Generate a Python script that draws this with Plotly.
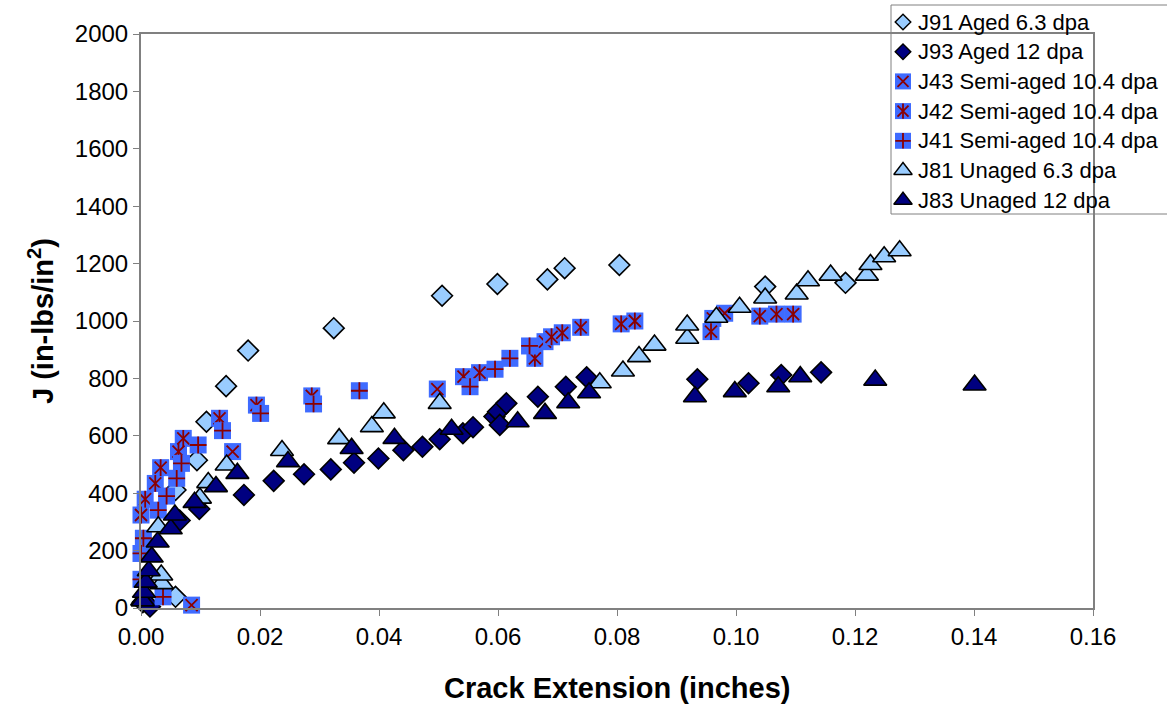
import plotly.graph_objects as go

# ---------------------------------------------------------------------------
# J-R curve data: crack extension (inches) vs J (in-lbs/in^2)
# ---------------------------------------------------------------------------
SERIES_NAMES = [
    "J91 Aged 6.3 dpa",
    "J93 Aged 12 dpa",
    "J43 Semi-aged 10.4 dpa",
    "J42 Semi-aged 10.4 dpa",
    "J41 Semi-aged 10.4 dpa",
    "J81 Unaged 6.3 dpa",
    "J83 Unaged 12 dpa",
]

j91_da = [0.0003, 0.0058, 0.0058, 0.0094, 0.0110, 0.0143, 0.0180, 0.0324,
          0.0506, 0.0599, 0.0683, 0.0712, 0.0804, 0.1049, 0.1184]
j91_j = [20, 39, 411, 515, 649, 773, 897, 975,
         1088, 1129, 1145, 1184, 1195, 1120, 1133]

j93_da = [0.0015, 0.0065, 0.0098, 0.0173, 0.0223, 0.0274, 0.0319, 0.0358,
          0.0399, 0.0441, 0.0473, 0.0502, 0.0541, 0.0558, 0.0594, 0.0600,
          0.0603, 0.0614, 0.0667, 0.0714, 0.0749, 0.0935, 0.1021, 0.1076,
          0.1143]
j93_j = [5, 305, 345, 394, 443, 466, 483, 506,
         521, 550, 562, 588, 609, 630, 667, 684,
         638, 713, 736, 771, 804, 797, 783, 812,
         821]

j43_da = [0.0085, 0.0154, 0.0498, 0.0679, 0.0961, 0.0981]
j43_j = [10, 545, 763, 928, 1009, 1027]

j42_da = [0.0000, 0.0007, 0.0024, 0.0033, 0.0063, 0.0071, 0.0132, 0.0194,
          0.0287, 0.0542, 0.0569, 0.0662, 0.0690, 0.0708, 0.0739, 0.0807,
          0.0830, 0.0958, 0.1040, 0.1068, 0.1096]
j42_j = [324, 379, 434, 489, 545, 591, 661, 707,
         739, 806, 820, 870, 945, 959, 978, 990,
         1000, 963, 1017, 1024, 1024]

j41_da = [0.0000, 0.0000, 0.0004, 0.0029, 0.0037, 0.0043, 0.0060, 0.0068,
          0.0096, 0.0137, 0.0201, 0.0290, 0.0367, 0.0553, 0.0595, 0.0620,
          0.0653]
j41_j = [100, 190, 243, 341, 39, 390, 452, 504,
         568, 618, 678, 711, 757, 771, 832, 870,
         913]

j81_da = [0.0002, 0.0035, 0.0034, 0.0029, 0.0099, 0.0113, 0.0144, 0.0237,
          0.0333, 0.0388, 0.0408, 0.0502, 0.0771, 0.0810, 0.0837, 0.0863,
          0.0918, 0.0918, 0.0967, 0.1006, 0.1049, 0.1102, 0.1121, 0.1159,
          0.1220, 0.1226, 0.1249, 0.1275]
j81_j = [28, 85, 115, 283, 383, 437, 498, 549,
         590, 632, 680, 713, 785, 826, 876, 916,
         940, 986, 1013, 1048, 1080, 1094, 1140, 1160,
         1160, 1197, 1224, 1245]

j83_da = [0.0003, 0.0005, 0.0008, 0.0013, 0.0018, 0.0028, 0.0050, 0.0057,
          0.0090, 0.0126, 0.0162, 0.0247, 0.0354, 0.0426, 0.0522, 0.0633,
          0.0679, 0.0718, 0.0753, 0.0931, 0.0998, 0.1071, 0.1108, 0.1234,
          0.1401]
j83_j = [25, 55, 90, 130, 178, 230, 276, 324,
         368, 423, 469, 510, 556, 591, 623, 649,
         678, 715, 750, 736, 754, 771, 806, 794,
         777]

X_TICKS = [0.00, 0.02, 0.04, 0.06, 0.08, 0.10, 0.12, 0.14, 0.16]
Y_TICKS = [0, 200, 400, 600, 800, 1000, 1200, 1400, 1600, 1800, 2000]

# ---------------------------------------------------------------------------
# Styling
# ---------------------------------------------------------------------------
LIGHT = "#99CCFF"
NAVY = "#000080"
SQ_BLUE = "#3F6BFF"
DARK_RED = "#8B0000"
AXIS_GREY = "#808080"
FONT = "Arial, Liberation Sans, sans-serif"

W, H = 1167, 704
# pixel frame of the plotting area (the paper is the whole figure)
PL, PR, PT, PB = 141, 1093, 34, 608


def fx(px):
    return px / W


def fy(py):
    return 1 - py / H


fig = go.Figure()


def outlined(da, j, symbol, color, size):
    return go.Scatter(
        x=da, y=j, mode="markers", cliponaxis=False, showlegend=False,
        hoverinfo="x+y",
        marker=dict(symbol=symbol, size=size, color=color,
                    line=dict(color="black", width=1.6)),
    )


def semi(da, j, glyphs):
    traces = [go.Scatter(
        x=da, y=j, mode="markers", cliponaxis=False, showlegend=False,
        marker=dict(symbol="square", size=17, color=SQ_BLUE,
                    line=dict(width=0)),
    )]
    for g in glyphs:
        traces.append(go.Scatter(
            x=da, y=j, mode="markers", cliponaxis=False, showlegend=False,
            hoverinfo="skip",
            marker=dict(symbol=g, size=12, color=DARK_RED,
                        line=dict(color=DARK_RED, width=1.8)),
        ))
    return traces


GLYPHS = {
    2: ["x-thin-open"],
    3: ["x-thin-open", "line-ns-open"],
    4: ["cross-thin-open"],
}

fig.add_trace(outlined(j91_da, j91_j, "diamond", LIGHT, 16))
fig.add_trace(outlined(j93_da, j93_j, "diamond", NAVY, 16))
for t in semi(j43_da, j43_j, GLYPHS[2]):
    fig.add_trace(t)
for t in semi(j42_da, j42_j, GLYPHS[3]):
    fig.add_trace(t)
for t in semi(j41_da, j41_j, GLYPHS[4]):
    fig.add_trace(t)
fig.add_trace(outlined(j81_da, j81_j, "triangle-up", LIGHT, 20))
fig.add_trace(outlined(j83_da, j83_j, "triangle-up", NAVY, 20))

# ---------------------------------------------------------------------------
# Legend box (drawn on a pixel-scaled helper axis pair covering the figure)
# ---------------------------------------------------------------------------
LEG_L, LEG_T, LEG_B = 891, 5, 214
ROW0, ROW_H = 22, 29.7
SYM_X, TXT_X = 903, 916

fig.add_shape(type="rect", xref="paper", yref="paper",
              x0=fx(LEG_L), x1=fx(W + 10), y0=fy(LEG_B), y1=fy(LEG_T),
              line=dict(color=AXIS_GREY, width=1), fillcolor="white",
              layer="below")

legend_style = [
    ("diamond", LIGHT, None),
    ("diamond", NAVY, None),
    ("square", SQ_BLUE, GLYPHS[2]),
    ("square", SQ_BLUE, GLYPHS[3]),
    ("square", SQ_BLUE, GLYPHS[4]),
    ("triangle-up", LIGHT, None),
    ("triangle-up", NAVY, None),
]
for i, (name, (sym, col, glyphs)) in enumerate(zip(SERIES_NAMES, legend_style)):
    yc = ROW0 + ROW_H * i
    if glyphs is None:
        size = 12 if sym == "diamond" else 16
        fig.add_trace(go.Scatter(
            x=[SYM_X], y=[yc], xaxis="x2", yaxis="y2", mode="markers",
            showlegend=False, hoverinfo="skip",
            marker=dict(symbol=sym, size=size, color=col,
                        line=dict(color="black", width=1.4))))
    else:
        fig.add_trace(go.Scatter(
            x=[SYM_X], y=[yc], xaxis="x2", yaxis="y2", mode="markers",
            showlegend=False, hoverinfo="skip",
            marker=dict(symbol="square", size=16, color=col,
                        line=dict(width=0))))
        for g in glyphs:
            fig.add_trace(go.Scatter(
                x=[SYM_X], y=[yc], xaxis="x2", yaxis="y2", mode="markers",
                showlegend=False, hoverinfo="skip",
                marker=dict(symbol=g, size=11, color=DARK_RED,
                            line=dict(color=DARK_RED, width=1.8))))
    fig.add_annotation(x=TXT_X, y=yc, xref="x2", yref="y2", text=name,
                       showarrow=False, xanchor="left", yanchor="middle",
                       font=dict(family=FONT, size=22, color="black"))

# ---------------------------------------------------------------------------
# Axes and titles
# ---------------------------------------------------------------------------
axis_common = dict(
    showgrid=False, zeroline=False, showline=True, mirror=True,
    linecolor=AXIS_GREY, linewidth=2, ticks="outside", ticklen=6,
    tickwidth=1, tickcolor=AXIS_GREY, automargin=False,
    tickfont=dict(family=FONT, size=24, color="black"),
)

fig.update_layout(
    width=W, height=H, autosize=False,
    margin=dict(l=0, r=0, t=0, b=0, pad=0),
    paper_bgcolor="white", plot_bgcolor="rgba(0,0,0,0)",
    showlegend=False,
    xaxis=dict(domain=[fx(PL), fx(PR)], range=[0, 0.16],
               tickvals=X_TICKS, tickformat=".2f", **axis_common),
    yaxis=dict(domain=[fy(PB), fy(PT)], range=[0, 2000],
               tickvals=Y_TICKS, **axis_common),
    xaxis2=dict(domain=[0, 1], range=[0, W], visible=False,
                anchor="y2", fixedrange=True, automargin=False),
    yaxis2=dict(domain=[0, 1], range=[H, 0], visible=False,
                anchor="x2", fixedrange=True, automargin=False),
)

fig.add_annotation(text="<b>Crack Extension (inches)</b>", xref="paper",
                   yref="paper", x=fx(617), y=fy(688),
                   showarrow=False, xanchor="center", yanchor="middle",
                   font=dict(family=FONT, size=29, color="black"))
fig.add_annotation(text="<b>J (in-lbs/in<sup>2</sup>)</b>", xref="paper",
                   yref="paper", x=fx(41), y=fy(321),
                   textangle=-90, showarrow=False, xanchor="center",
                   yanchor="middle",
                   font=dict(family=FONT, size=29, color="black"))

fig.write_html("out.html")
